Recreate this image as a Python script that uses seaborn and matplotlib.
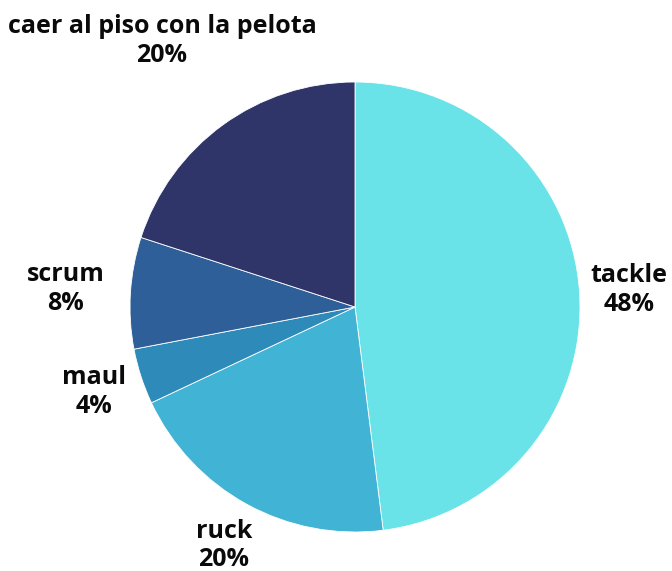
import numpy as np
import matplotlib.pyplot as plt
import seaborn as sns

sns.set_theme(style="white")
plt.rcParams['font.family'] = ['Open Sans', 'DejaVu Sans']

# data
labels = ['tackle', 'ruck', 'maul', 'scrum', 'caer al piso con la pelota']
values = [48, 20, 4, 8, 20]
colors = ['#69E3E8', '#41B3D4', '#2E8BB9', '#2E5F98', '#2F3469']
label_dist = [1.22, 1.21, 1.22, 1.29, 1.46]

fig = plt.figure(figsize=(6.72, 5.71), dpi=100)
# pie centre ~ (355, 307) px, radius ~225 px
r = 225
ax = fig.add_axes([(355 - r) / 672, (571 - 307 - r) / 571, 2 * r / 672, 2 * r / 571])

wedges, _ = ax.pie(values, colors=colors, startangle=90, counterclock=False,
                   wedgeprops=dict(edgecolor='white', linewidth=0.6))
ax.set_xlim(-1, 1)
ax.set_ylim(-1, 1)
ax.set_aspect('auto')

for w, lab, v, d in zip(wedges, labels, values, label_dist):
    ang = np.deg2rad((w.theta1 + w.theta2) / 2)
    ax.text(d * np.cos(ang), d * np.sin(ang), f"{lab}\n{v}%",
            ha='center', va='center', fontsize=18, fontweight='bold',
            color='#0a0a0a', linespacing=1.2, clip_on=False)

fig.savefig('out.png', dpi=100)
